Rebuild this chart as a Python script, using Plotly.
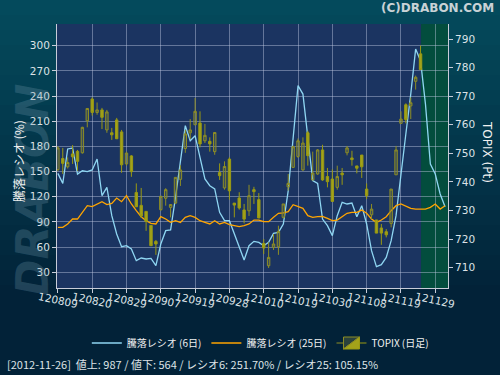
import plotly.graph_objects as go

# ---------------- data ----------------
tick_labels = ["120809", "120820", "120829", "120907", "120919", "120928",
               "121010", "121019", "121030", "121108", "121119", "121129"]
tick_pos = [0, 7, 14, 21, 28, 35, 42, 49, 56, 63, 70, 77]

topix_open = [744.3, 748.2, 745.3, 749.8, 750.7, 750.2, 761.4, 769.0, 764.3, 765.2,
              758.2, 757.2, 761.7, 757.5, 746.3, 749.1, 736.3, 731.8, 729.7, 724.8,
              719.2, 730.3, 734.3, 731.1, 732.6, 740.9, 751.7, 757.2, 760.0, 760.6,
              754.4, 754.2, 750.6, 743.3, 737.9, 748.0, 732.6, 734.4, 730.2, 729.9,
              737.3, 733.8, 718.5, 710.7, 717.1, 717.3, 727.6, 738.3, 745.1, 748.9,
              744.2, 757.2, 740.7, 742.8, 751.2, 741.9, 741.0, 738.1, 743.1, 750.2,
              748.4, 745.6, 749.4, 737.5, 728.5, 726.7, 723.9, 722.6, 725.5, 742.5,
              760.5, 767.0, 766.6, 775.2, 784.8]
topix_high = [752.5, 751.9, 748.6, 752.9, 751.2, 759.3, 765.8, 769.6, 767.8, 765.9,
              765.2, 758.9, 762.4, 758.2, 750.6, 749.4, 739.5, 737.9, 729.7, 724.8,
              719.7, 735.0, 737.8, 732.1, 741.6, 745.8, 758.2, 762.0, 769.4, 764.7,
              760.3, 755.6, 757.3, 746.5, 747.2, 748.6, 732.6, 736.4, 732.3, 739.0,
              738.3, 736.1, 720.0, 718.9, 721.8, 724.7, 732.3, 742.8, 752.7, 755.2,
              755.6, 757.9, 750.6, 751.5, 753.0, 744.9, 744.4, 745.7, 744.9, 752.6,
              750.9, 745.6, 749.4, 739.5, 732.3, 726.7, 725.3, 723.5, 737.5, 752.6,
              764.7, 767.5, 769.6, 777.2, 787.7]
topix_low = [743.8, 742.8, 744.7, 746.3, 743.9, 749.9, 759.1, 763.2, 763.5, 758.5,
             757.2, 754.7, 755.1, 743.2, 745.7, 741.8, 731.3, 727.4, 722.9, 717.7,
             714.5, 729.9, 731.7, 727.6, 732.3, 738.6, 750.2, 755.0, 759.9, 752.1,
             753.6, 750.6, 749.5, 740.7, 737.3, 733.8, 727.6, 730.3, 725.5, 728.1,
             732.3, 727.4, 714.8, 709.9, 716.2, 714.5, 727.2, 737.0, 744.9, 748.4,
             743.9, 745.7, 740.7, 742.5, 740.4, 738.1, 733.2, 737.3, 739.0, 749.3,
             745.7, 743.0, 741.4, 734.0, 727.0, 722.1, 718.0, 720.6, 724.1, 742.5,
             760.3, 760.5, 762.0, 772.3, 779.3]
topix_close = [751.9, 746.5, 746.8, 748.8, 747.2, 759.1, 765.7, 764.3, 765.2, 762.6,
               764.5, 756.5, 755.1, 746.0, 750.1, 743.6, 731.3, 728.1, 726.2, 717.7,
               718.3, 735.0, 737.3, 732.1, 741.6, 744.2, 756.8, 758.2, 764.7, 753.3,
               756.3, 753.3, 757.3, 742.2, 745.4, 736.9, 731.9, 730.9, 727.0, 735.2,
               736.6, 727.4, 716.9, 713.6, 718.3, 722.7, 732.3, 739.5, 752.3, 754.4,
               753.6, 749.2, 743.1, 751.2, 740.7, 740.1, 733.2, 741.9, 742.5, 751.9,
               747.8, 744.8, 745.3, 735.2, 730.5, 722.1, 722.1, 721.5, 737.5, 751.2,
               762.0, 761.8, 767.7, 776.6, 779.3]

ratio6 = [147.9, 136.0, 177.0, 178.1, 147.1, 151.0, 150.0, 152.0, 165.0, 121.3,
          131.3, 97.5, 75.7, 60.5, 61.7, 57.8, 43.9, 47.0, 45.9, 46.6,
          37.9, 63.7, 79.6, 80.4, 119.3, 159.1, 204.7, 186.8, 192.8, 167.0,
          141.2, 133.2, 129.3, 101.5, 91.5, 91.5, 75.6, 59.8, 44.7, 61.7,
          66.9, 65.7, 61.7, 65.7, 76.4, 77.6, 87.6, 127.3, 186.8, 252.4,
          242.4, 186.8, 139.2, 136.0, 93.5, 85.6, 73.7, 97.5, 113.4, 111.4,
          112.6, 96.3, 109.4, 87.6, 55.8, 36.7, 39.1, 47.8, 67.7, 97.5,
          149.1, 194.8, 242.4, 296.0, 282.2, 230.5, 159.1, 147.1, 123.3, 108.2]
ratio25 = [83.6, 83.6, 87.6, 93.5, 93.5, 101.5, 109.4, 108.2, 111.4, 114.2,
           110.6, 112.2, 118.5, 114.2, 121.3, 111.4, 103.4, 96.3, 91.5, 88.4,
           87.6, 96.3, 93.5, 89.5, 91.5, 89.5, 95.5, 97.5, 95.5, 91.5,
           89.5, 87.6, 91.5, 87.6, 89.5, 86.8, 85.6, 84.4, 85.6, 87.6,
           92.3, 92.3, 90.3, 90.3, 95.5, 100.3, 100.7, 102.3, 110.6, 108.2,
           106.2, 97.5, 95.5, 96.3, 96.7, 94.3, 91.5, 92.3, 96.7, 100.3,
           101.5, 101.5, 104.2, 100.3, 93.5, 89.5, 92.3, 96.3, 103.4, 109.4,
           111.4, 108.6, 106.2, 105.4, 105.4, 105.4, 107.4, 111.4, 105.4, 109.4]

candle_x = list(range(len(topix_open)))
ratio_x = list(range(len(ratio6)))

footer = "[2012-11-26]  値上: 987 / 値下: 564 / レシオ6: 251.70% / レシオ25: 105.15%"

# ---------------- figure ----------------
W, H = 500, 375
ML, MR, MT, MB = 57, 52, 24, 87
PW, PH = W - ML - MR, H - MT - MB

def px_x(px):
    return (px - ML) / PW

def px_y(py):
    return (H - MB - py) / PH

FONT = "DejaVu Sans, Noto Sans CJK JP, sans-serif"
JFONT = "Noto Sans CJK JP, DejaVu Sans, sans-serif"

fig = go.Figure()

fig.add_trace(go.Scatter(
    x=ratio_x, y=ratio6, mode="lines", name="騰落レシオ (6日)",
    line=dict(color="#8fd6f2", width=1.3), yaxis="y"))
fig.add_trace(go.Scatter(
    x=ratio_x, y=ratio25, mode="lines", name="騰落レシオ (25日)",
    line=dict(color="#ffa500", width=1.3), yaxis="y"))
fig.add_trace(go.Candlestick(
    x=candle_x, open=topix_open, high=topix_high, low=topix_low, close=topix_close,
    name="TOPIX (日足)", yaxis="y2",
    increasing=dict(line=dict(color="#8e8e24", width=1), fillcolor="rgba(120,125,70,0.35)"),
    decreasing=dict(line=dict(color="#9a9a12", width=1), fillcolor="#a3a31a"),
    whiskerwidth=0))

shapes = []
# background gradient bands (paper)
top = (4, 74, 92)
bot = (2, 34, 56)
n = 25
for k in range(n):
    t = k / (n - 1)
    c = tuple(int(round(top[j] + (bot[j] - top[j]) * min(1, t * 1.25))) for j in range(3))
    y_top = k * H / n
    y_bot = (k + 1) * H / n + 1
    shapes.append(dict(type="rect", xref="paper", yref="paper", layer="below",
                       x0=px_x(-2), x1=px_x(W + 2), y0=px_y(y_bot), y1=px_y(y_top),
                       fillcolor="rgb(%d,%d,%d)" % c, line=dict(width=0)))
# plot area
shapes.append(dict(type="rect", xref="paper", yref="paper", layer="below",
                   x0=0, x1=1, y0=0, y1=1, fillcolor="#1b3461", line=dict(width=0)))
# green region after the last candle
shapes.append(dict(type="rect", xref="x", yref="paper", layer="below",
                   x0=74.1, x1=79.6, y0=0, y1=1, fillcolor="#034d3d", line=dict(width=0)))

annotations = [
    dict(text="(C)DRABON.COM", xref="paper", yref="paper", x=px_x(496), y=px_y(8),
         xanchor="right", yanchor="middle", showarrow=False,
         font=dict(family="DejaVu Sans", size=12, color="#c9d2d6", weight="bold")),
    dict(text="DRABON", xref="paper", yref="paper", x=px_x(32), y=px_y(190),
         xanchor="center", yanchor="middle", showarrow=False, textangle=-90,
         font=dict(family="DejaVu Sans", size=44, color="rgba(110,150,170,0.28)",
                   weight="bold", style="italic")),
    dict(text="騰落レシオ (%)", xref="paper", yref="paper", x=px_x(18), y=px_y(161),
         xanchor="center", yanchor="middle", showarrow=False, textangle=-90,
         font=dict(family=JFONT, size=12, color="#f0f0f0")),
    dict(text="TOPIX (Pt)", xref="paper", yref="paper", x=px_x(487), y=px_y(152),
         xanchor="center", yanchor="middle", showarrow=False, textangle=90,
         font=dict(family=FONT, size=12, color="#f0f0f0")),
    dict(text=footer, xref="paper", yref="paper", x=px_x(5), y=px_y(364),
         xanchor="left", yanchor="middle", showarrow=False,
         font=dict(family=JFONT, size=11, color="#dde2e6")),
]
# slanted date labels centred on their ticks
for pos, lab in zip(tick_pos, tick_labels):
    annotations.append(dict(text=lab, xref="x", yref="paper", x=pos, y=px_y(300),
                            xanchor="center", yanchor="middle", showarrow=False,
                            textangle=12,
                            font=dict(family=FONT, size=10.5, color="#dde2e6")))

fig.update_layout(
    width=W, height=H,
    margin=dict(l=ML, r=MR, t=MT, b=MB, pad=0, autoexpand=False),
    paper_bgcolor="#033448", plot_bgcolor="#1b3461",
    font=dict(family=FONT, color="#dde2e6", size=10.5),
    shapes=shapes, annotations=annotations,
    showlegend=True,
    legend=dict(orientation="h", x=0.52, xanchor="center", y=px_y(343), yanchor="middle",
                bgcolor="rgba(0,0,0,0)", font=dict(family=JFONT, size=10, color="#f0f0f0"),
                itemwidth=30, tracegroupgap=0),
    xaxis=dict(range=[-0.18, 79.6], tickmode="array", tickvals=tick_pos,
               showticklabels=False,
               showgrid=True, gridcolor="rgba(190,200,225,0.45)", gridwidth=1,
               zeroline=False, showline=True, linecolor="#c8ccd8", linewidth=1,
               ticks="outside", ticklen=4, tickcolor="#c8ccd8",
               rangeslider=dict(visible=False), fixedrange=True),
    yaxis=dict(range=[11.3, 325.9], tickmode="array", tickvals=list(range(30, 301, 30)),
               showgrid=True, gridcolor="rgba(190,200,225,0.45)", gridwidth=1,
               zeroline=False, showline=True, linecolor="#c8ccd8", linewidth=1,
               ticks="outside", ticklen=4, tickcolor="#c8ccd8",
               tickfont=dict(family=FONT, size=10.5, color="#dde2e6")),
    yaxis2=dict(range=[702.9, 795.25], overlaying="y", side="right",
                tickmode="array", tickvals=list(range(710, 791, 10)),
                showgrid=False, zeroline=False, showline=True, linecolor="#c8ccd8", linewidth=1,
                ticks="outside", ticklen=4, tickcolor="#c8ccd8",
                tickfont=dict(family=FONT, size=10.5, color="#dde2e6")),
)

fig.write_html("out.html", config={"displayModeBar": False},
               post_script="document.body.style.margin='0';")
